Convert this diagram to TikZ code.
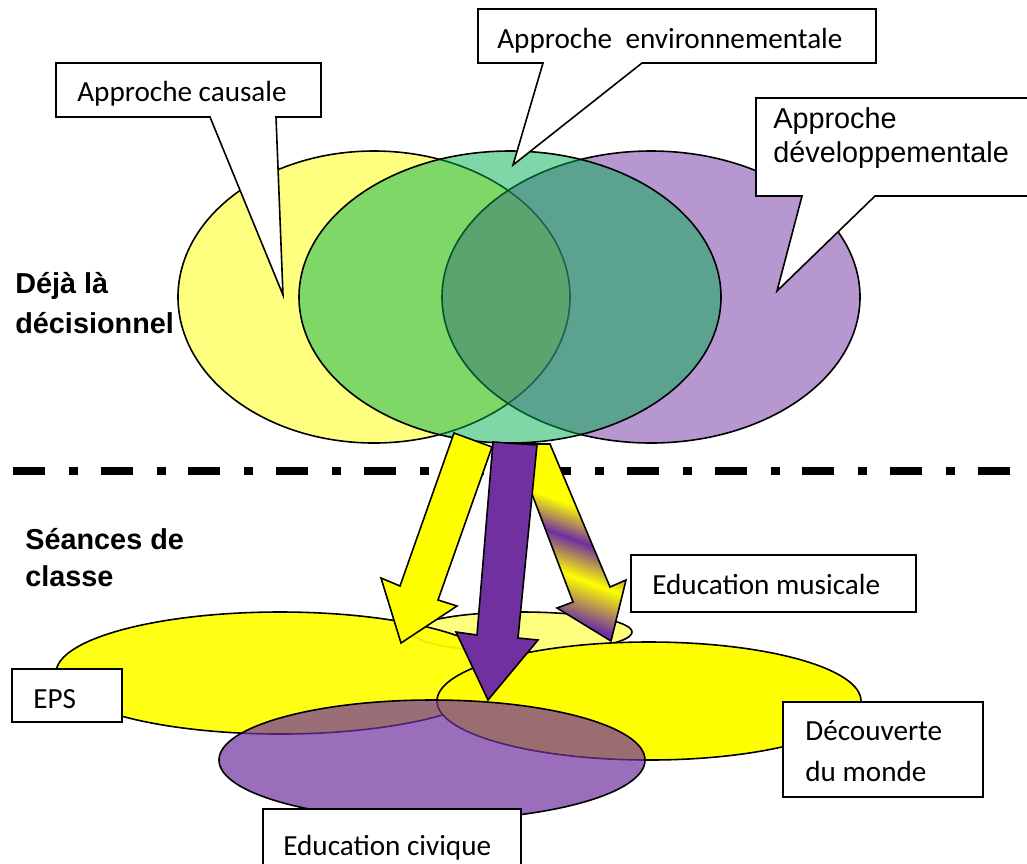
\documentclass[tikz,border=0pt]{standalone}
\usepackage{fontspec}
\setmainfont{Carlito}
\newfontfamily\arialf{Liberation Sans}
\newdimen\px \px=0.02cm
\definecolor{yel}{HTML}{FFFF00}
\definecolor{pur}{HTML}{7030A0}
\definecolor{grn}{HTML}{00B050}
\tikzset{
 outl/.style={draw=black, line width=1.6\px, line join=miter},
 lbl/.style={inner sep=0pt, anchor=base west, font=\fontsize{16.6}{20}\selectfont},
 albl/.style={inner sep=0pt, anchor=base west, font=\arialf\fontsize{16.4}{20}\selectfont},
 blbl/.style={inner sep=0pt, anchor=base west, font=\arialf\bfseries\fontsize{16.4}{20}\selectfont},
 box/.style={outl, fill=white},
 sep/.style={line width=7.5\px, dash pattern=on 32\px off 24\px on 9\px off 22.7\px},
}
\begin{document}
\begin{tikzpicture}[x=0.02cm, y=-0.02cm]
\useasboundingbox (0,0) rectangle (1027,863);
% top ellipses
\path[outl, fill=yel, fill opacity=0.5] (374,297) ellipse [x radius=196, y radius=146];
\path[outl, fill=pur, fill opacity=0.5] (651,297) ellipse [x radius=209, y radius=146];
\path[outl, fill=grn, fill opacity=0.5] (510,297) ellipse [x radius=211, y radius=146];
% callouts
\path[box] (56,63) -- (321,63) -- (321,117) -- (276,117) -- (283,295) -- (210,117) -- (56,117) -- cycle;
\node[lbl] (causale) at (77,101.7) {Approche causale};
\path[box] (478,9) -- (876,9) -- (876,63) -- (642,63) -- (513,165) -- (543,63) -- (478,63) -- cycle;
\node[lbl] (envir) at (497,48.3) {Approche\hspace{0.46em}environnementale};
\path[box] (756,98) -- (1040,98) -- (1040,196) -- (875,196) -- (777,291) -- (802,196) -- (756,196) -- cycle;
\node[albl] (dev1) at (773,128) {Approche};
\node[albl] (dev2) at (773,162) {développementale};
% side labels
\node[blbl] (deja1) at (15,293) {Déjà là};
\node[blbl] (deja2) at (15,333) {décisionnel};
\node[blbl] (sean1) at (25,549) {Séances de};
\node[blbl] (sean2) at (25,586) {classe};
% separator
\draw[sep] (13,471) -- (1020,471);
% bottom ellipses
\path[outl, fill=yel, fill opacity=0.5] (522,632) ellipse [x radius=110, y radius=20];
\path[outl, fill=yel, fill opacity=0.92] (280,673) ellipse [x radius=224, y radius=61];
\path[outl, fill=yel] (649,701) ellipse [x radius=212, y radius=59];
\path[outl, fill=pur, fill opacity=0.7] (432,760) ellipse [x radius=213, y radius=60];
% gradient arrow
\begin{scope}
\clip (513,444) -- (550,444) -- (610,587) -- (626,580) -- (611,641) -- (557,608) -- (573,602) -- cycle;
\begin{scope}[rotate=-20]
\foreach \u in {210,212,...,412}{
 \pgfmathsetmacro\pp{\u<278 ? 0 : (\u<310 ? (\u-278)*100/32 : (\u<345 ? (345-\u)*100/35 : min(100,(\u-345)*100/42)))}
 \fill[pur!\pp!yel] (580,\u) rectangle (840,\u+2.8);
}
\end{scope}
\end{scope}
\path[outl] (513,444) -- (550,444) -- (610,587) -- (626,580) -- (611,641) -- (557,608) -- (573,602) -- cycle;
% yellow arrow
\path[outl, fill=yel] (454,433) -- (492,447) -- (438,600) -- (457,606) -- (401,643) -- (381,578) -- (400,586) -- cycle;
% purple arrow
\path[outl, fill=pur] (493,442) -- (537,445) -- (518,638) -- (538,640) -- (488,700) -- (456,632) -- (477,635) -- cycle;
% bottom boxes
\path[box] (631,555) rectangle (916,612);
\node[lbl] (musique) at (652,594) {Education musicale};
\path[box] (12,669) rectangle (122,722);
\node[lbl] (eps) at (33,708) {EPS};
\path[box] (783,702) rectangle (983,797);
\node[lbl] (decouv1) at (805,740) {Découverte};
\node[lbl] (decouv2) at (805,781) {du monde};
\path[box] (263,809) rectangle (521,890);
\node[lbl] (civique) at (283,855) {Education civique};
\end{tikzpicture}
\end{document}
